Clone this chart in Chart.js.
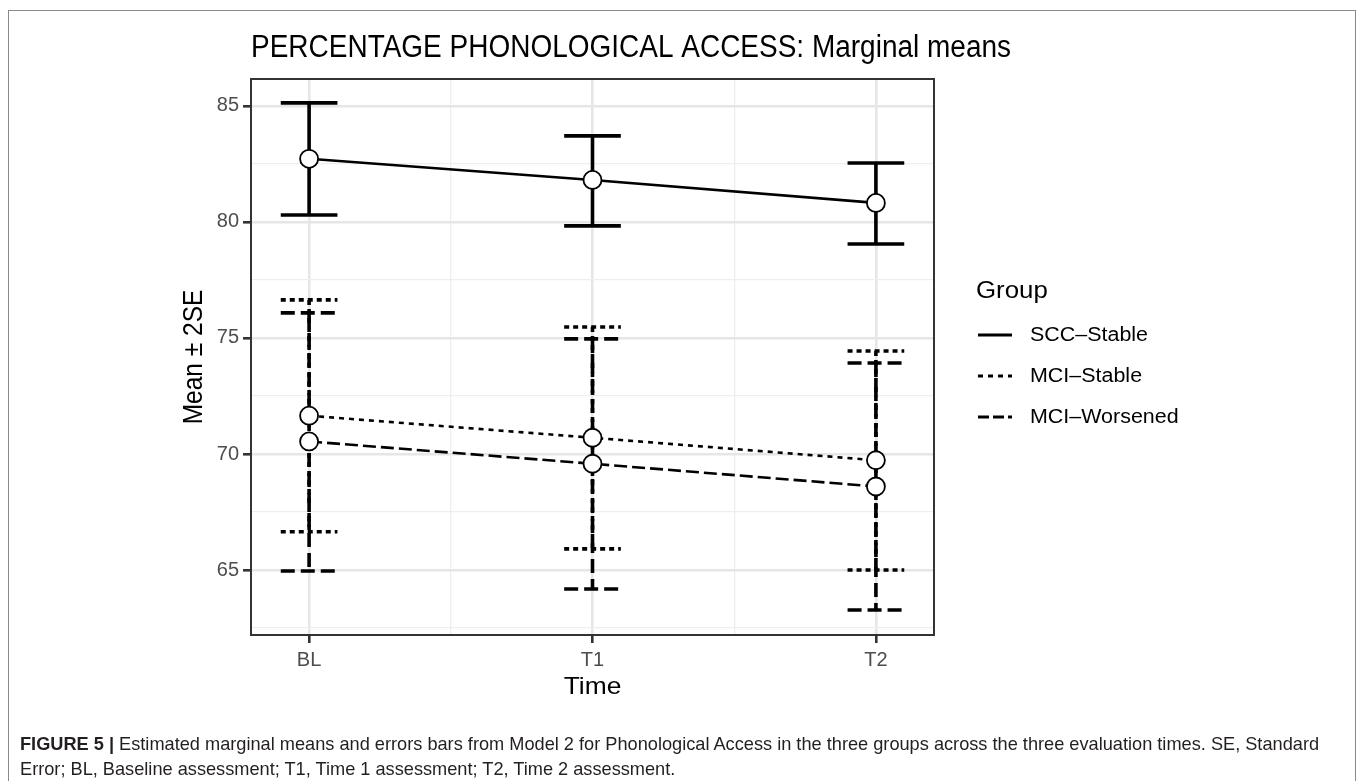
<!DOCTYPE html>
<html>
<head>
<meta charset="utf-8">
<script src="https://cdn.jsdelivr.net/npm/chart.js@4.4.0/dist/chart.umd.min.js"></script>
<style>
  html, body { margin: 0; padding: 0; background: #fff; }
  body { width: 1357px; height: 781px; position: relative; overflow: hidden; font-family: "Liberation Sans", Arial, sans-serif; }
  #frame { position: absolute; left: 8px; top: 10px; width: 1348px; height: 820px; border: 1.5px solid #8a8a8a; box-sizing: border-box; }
  #wrap { position: absolute; left: 0; top: 0; width: 1357px; height: 781px; }
  #caption { position: absolute; left: 20px; top: 732px; font-size: 18.2px; line-height: 25px; color: #231f20; white-space: nowrap; }
</style>
</head>
<body>
<div id="frame"></div>
<div id="wrap"><canvas id="chart"></canvas></div>
<div id="caption"><b>FIGURE 5 |</b> Estimated marginal means and errors bars from Model 2 for Phonological Access in the three groups across the three evaluation times. SE, Standard<br>Error; BL, Baseline assessment; T1, Time 1 assessment; T2, Time 2 assessment.</div>
<script>
const TIMES = ['BL', 'T1', 'T2'];
const TIME_POS = [1, 2, 3];
const GROUPS = ['SCC\u2013Stable', 'MCI\u2013Stable', 'MCI\u2013Worsened'];

const SCC_MEAN = [82.72, 81.81, 80.82];
const SCC_LOW = [80.30, 79.83, 79.05];
const SCC_HIGH = [85.13, 83.71, 82.54];

const MCIS_MEAN = [71.65, 70.70, 69.73];
const MCIS_LOW = [66.65, 65.91, 65.00];
const MCIS_HIGH = [76.64, 75.47, 74.44];

const MCIW_MEAN = [70.54, 69.58, 68.60];
const MCIW_LOW = [64.96, 64.18, 63.28];
const MCIW_HIGH = [76.08, 74.96, 73.92];

const FONT = '"Liberation Sans", Arial, sans-serif';
const LINE_DASH = [[], [5, 5], [13, 5]];
const BAR_DASH = [[], [5, 4], [14, 6]];
const KEY_DASH = [[], [5, 5], [11, 4]];
const STRETCH = 1.1; // the figure text is a little wider than tall

const PANEL = { left: 251, top: 79, right: 934, bottom: 635 };

function toPoints(means) {
  return means.map((v, i) => ({ x: TIME_POS[i], y: v }));
}

function makeDataset(i, means, low, high) {
  return {
    label: GROUPS[i],
    data: toPoints(means),
    errLow: low,
    errHigh: high,
    borderColor: '#000',
    borderWidth: 2.6,
    borderDash: LINE_DASH[i],
    tension: 0,
    pointRadius: 9,
    pointBorderWidth: 1.8,
    pointBackgroundColor: '#fff',
    pointBorderColor: '#000',
  };
}

const isMajorY = v => Math.abs(v % 5) < 1e-6;
const isMajorX = v => Number.isInteger(v);

function wideText(ctx, text, x, y, sx) {
  ctx.save();
  ctx.translate(x, y);
  ctx.scale(sx, 1);
  ctx.fillText(text, 0, 0);
  ctx.restore();
}

const errorBars = {
  id: 'errorBars',
  beforeDatasetsDraw(chart) {
    const { ctx, scales: { x, y } } = chart;
    chart.data.datasets.forEach((ds, di) => {
      ctx.save();
      ctx.strokeStyle = '#000';
      ctx.lineWidth = 3.6;
      ctx.lineCap = 'butt';
      ctx.setLineDash(BAR_DASH[di]);
      ds.data.forEach((p, i) => {
        const px = x.getPixelForValue(p.x);
        const x0 = x.getPixelForValue(p.x - 0.1);
        const x1 = x.getPixelForValue(p.x + 0.1);
        const yl = y.getPixelForValue(ds.errLow[i]);
        const yh = y.getPixelForValue(ds.errHigh[i]);
        ctx.beginPath();
        ctx.moveTo(px, yh); ctx.lineTo(px, yl);
        ctx.moveTo(x0, yh); ctx.lineTo(x1, yh);
        ctx.moveTo(x0, yl); ctx.lineTo(x1, yl);
        ctx.stroke();
      });
      ctx.restore();
    });
  },
};

const decor = {
  id: 'decor',
  afterDraw(chart) {
    const { ctx, chartArea: a } = chart;
    ctx.save();
    // panel border
    ctx.strokeStyle = '#333';
    ctx.lineWidth = 2;
    ctx.strokeRect(a.left, a.top, a.right - a.left, a.bottom - a.top);

    ctx.fillStyle = '#000';
    ctx.textBaseline = 'alphabetic';
    ctx.textAlign = 'left';
    ctx.font = '31px ' + FONT;
    ctx.fillText('PERCENTAGE PHONOLOGICAL ACCESS: Marginal means', a.left, 57, 760);

    ctx.font = '24px ' + FONT;
    ctx.textAlign = 'center';
    wideText(ctx, 'Time', (a.left + a.right) / 2, 694, STRETCH);

    ctx.save();
    ctx.translate(202, (a.top + a.bottom) / 2);
    ctx.rotate(-Math.PI / 2);
    ctx.scale(1, STRETCH);
    ctx.font = '24.5px ' + FONT;
    ctx.fillText('Mean \u00b1 2SE', 0, 0);
    ctx.restore();

    // legend
    ctx.textAlign = 'left';
    ctx.font = '23.5px ' + FONT;
    wideText(ctx, 'Group', 976, 298, STRETCH);
    ctx.font = '19.5px ' + FONT;
    ctx.textBaseline = 'middle';
    const rows = [335, 376, 417];
    chart.data.datasets.forEach((ds, i) => {
      ctx.save();
      ctx.strokeStyle = '#000';
      ctx.lineWidth = 3.2;
      ctx.setLineDash(KEY_DASH[i]);
      ctx.beginPath();
      ctx.moveTo(978, rows[i]);
      ctx.lineTo(1012, rows[i]);
      ctx.stroke();
      ctx.restore();
      ctx.fillStyle = '#000';
      wideText(ctx, ds.label, 1030, rows[i] + 1, STRETCH);
    });
    ctx.restore();
  },
};

new Chart(document.getElementById('chart'), {
  type: 'line',
  data: {
    datasets: [
      makeDataset(0, SCC_MEAN, SCC_LOW, SCC_HIGH),
      makeDataset(1, MCIS_MEAN, MCIS_LOW, MCIS_HIGH),
      makeDataset(2, MCIW_MEAN, MCIW_LOW, MCIW_HIGH),
    ],
  },
  options: {
    responsive: true,
    maintainAspectRatio: false,
    animation: false,
    events: [],
    layout: {
      padding: { left: 0, top: PANEL.top, right: 1357 - PANEL.right, bottom: 781 - PANEL.bottom - 40 },
    },
    plugins: { legend: { display: false }, title: { display: false }, tooltip: { enabled: false } },
    scales: {
      x: {
        type: 'linear',
        min: 0.795,
        max: 3.205,
        afterFit(scale) { scale.height = 40; },
        border: { display: false },
        grid: {
          color: c => isMajorX(c.tick.value) ? '#e6e6e6' : '#eeeeee',
          lineWidth: c => isMajorX(c.tick.value) ? 2.6 : 1.3,
          tickColor: c => isMajorX(c.tick.value) ? '#333' : 'rgba(0,0,0,0)',
          tickWidth: 2.6,
          tickLength: 8,
        },
        ticks: {
          stepSize: 0.5,
          includeBounds: false,
          autoSkip: false,
          maxRotation: 0,
          padding: 5,
          color: '#4d4d4d',
          font: { family: FONT, size: 20 },
          callback: v => isMajorX(v) ? TIMES[v - 1] : '',
        },
      },
      y: {
        min: 62.2,
        max: 86.16,
        afterFit(scale) { scale.width = PANEL.left; },
        border: { display: false },
        grid: {
          color: c => isMajorY(c.tick.value) ? '#e6e6e6' : '#eeeeee',
          lineWidth: c => isMajorY(c.tick.value) ? 2.6 : 1.3,
          tickColor: c => isMajorY(c.tick.value) ? '#333' : 'rgba(0,0,0,0)',
          tickWidth: 2.6,
          tickLength: 8,
        },
        ticks: {
          stepSize: 2.5,
          includeBounds: false,
          autoSkip: false,
          padding: 4,
          color: '#4d4d4d',
          font: { family: FONT, size: 20 },
          callback: v => isMajorY(v) ? v : '',
        },
      },
    },
  },
  plugins: [errorBars, decor],
});
</script>
</body>
</html>
